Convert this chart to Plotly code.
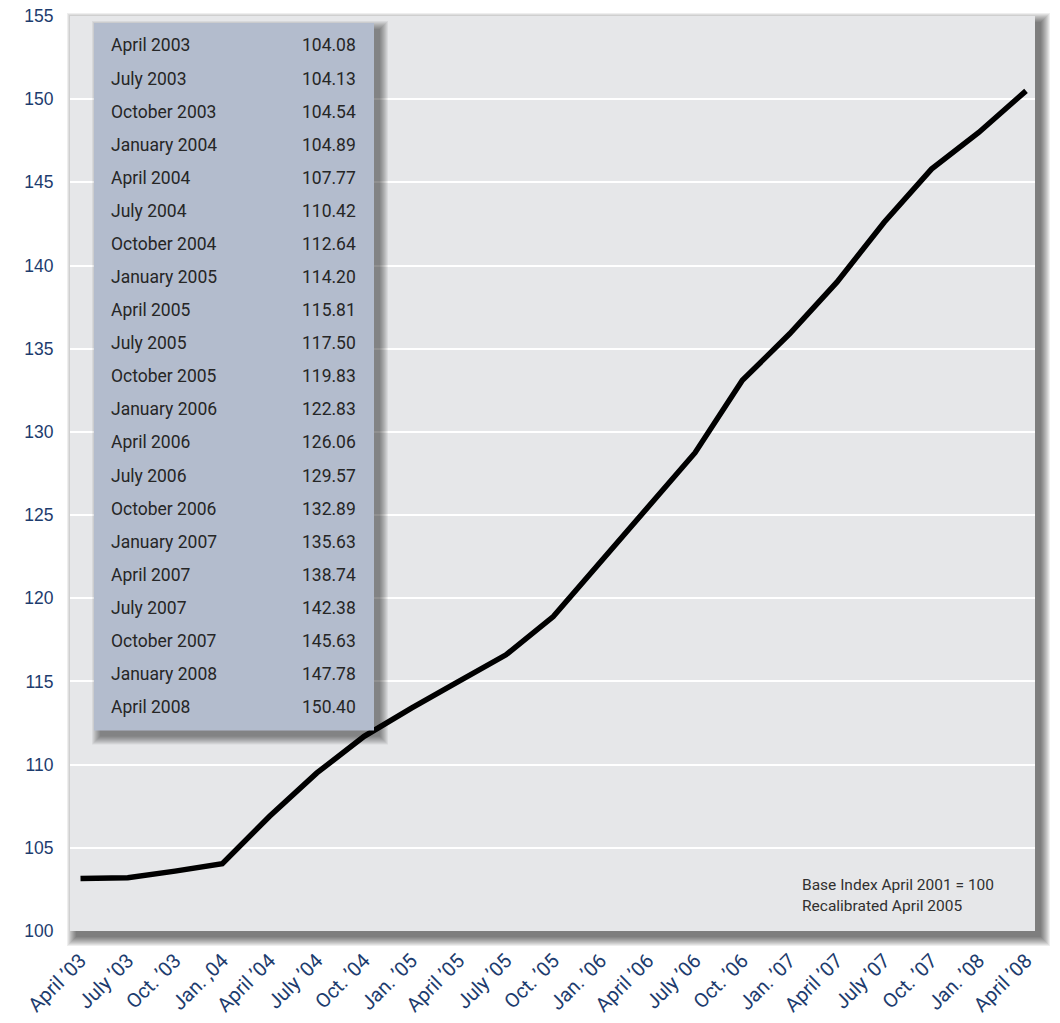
import plotly.graph_objects as go

# ---------------- data ----------------
x_labels = ["April ’03", "July ’03", "Oct. ’03", "Jan. ,04", "April ’04", "July ’04",
            "Oct. ’04", "Jan. ’05", "April ’05", "July ’05", "Oct. ’05", "Jan. ’06",
            "April ’06", "July ’06", "Oct. ’06", "Jan. ’07", "April ’07", "July ’07",
            "Oct. ’07", "Jan. ’08", "April ’08"]
index_values = [103.15, 103.2, 103.6, 104.05, 106.9, 109.5, 111.7, 113.4, 115.0, 116.6,
                118.9, 122.2, 125.5, 128.75, 133.1, 135.9, 139.0, 142.6, 145.8, 148.0, 150.5]

table_periods = ["April 2003", "July 2003", "October 2003", "January 2004", "April 2004",
                 "July 2004", "October 2004", "January 2005", "April 2005", "July 2005",
                 "October 2005", "January 2006", "April 2006", "July 2006", "October 2006",
                 "January 2007", "April 2007", "July 2007", "October 2007", "January 2008",
                 "April 2008"]
table_values = ["104.08", "104.13", "104.54", "104.89", "107.77", "110.42", "112.64",
                "114.20", "115.81", "117.50", "119.83", "122.83", "126.06", "129.57",
                "132.89", "135.63", "138.74", "142.38", "145.63", "147.78", "150.40"]

note_lines = ["Base Index April 2001 = 100", "Recalibrated April 2005"]

# ---------------- geometry (pixels) ----------------
W, H = 1060, 1023
L, R, T, B = 70, 1035, 16, 931.5


def px(x):
    return (x - L) / (R - L)


def py(y):
    return (B - y) / (B - T)


NAVY = "#1d3c6e"
TEXT = "#262626"
PLOT_BG = "#e6e7e9"

fig = go.Figure()
fig.add_trace(go.Scatter(
    x=x_labels, y=index_values, mode="lines",
    line=dict(color="black", width=5.5), hoverinfo="skip", showlegend=False,
))

shapes = []
# plot-area drop shadow (under the plot background)
for s in range(10):
    shapes.append(dict(type="rect", xref="paper", yref="paper", layer="below",
                       x0=px(L + 6 - s), x1=px(R + 6 + s),
                       y0=py(B + 6 + s), y1=py(T + 6 - s),
                       fillcolor="rgba(0,0,0,0.065)", line=dict(width=0)))
# plot background drawn over the shadow
shapes.append(dict(type="rect", xref="paper", yref="paper", layer="below",
                   x0=0, x1=1, y0=0, y1=1, fillcolor=PLOT_BG, line=dict(width=0)))

# table box with drop shadow
TX0, TX1, TY0, TY1 = 94, 374, 23, 731
for s in range(9):
    shapes.append(dict(type="rect", xref="paper", yref="paper", layer="above",
                       x0=px(TX0 + 6 - s), x1=px(TX1 + 6 + s),
                       y0=py(TY1 + 6 + s), y1=py(TY0 + 6 - s),
                       fillcolor="rgba(0,0,0,0.06)", line=dict(width=0)))
shapes.append(dict(type="rect", xref="paper", yref="paper", layer="above",
                   x0=px(TX0), x1=px(TX1), y0=py(TY1), y1=py(TY0),
                   fillcolor="#b3bccd", line=dict(width=0)))

annotations = []
for i, (p, v) in enumerate(zip(table_periods, table_values)):
    yy = py(45.5 + i * 33.1)
    annotations.append(dict(xref="paper", yref="paper", x=px(110), y=yy, text=p,
                            xanchor="left", yanchor="middle", showarrow=False, borderpad=0,
                            font=dict(family="Roboto", size=17.5, color=TEXT)))
    annotations.append(dict(xref="paper", yref="paper", x=px(357), y=yy, text=v,
                            xanchor="right", yanchor="middle", showarrow=False, borderpad=0,
                            font=dict(family="Roboto", size=17.5, color=TEXT)))
for i, t in enumerate(note_lines):
    annotations.append(dict(xref="paper", yref="paper", x=px(801), y=py(885 + i * 21), text=t,
                            xanchor="left", yanchor="middle", showarrow=False, borderpad=0,
                            font=dict(family="Roboto", size=15.5, color="#303030")))

fig.update_layout(
    width=W, height=H,
    margin=dict(l=L, r=W - R, t=T, b=H - B, pad=0),
    paper_bgcolor="white", plot_bgcolor="rgba(0,0,0,0)",
    shapes=shapes, annotations=annotations,
    xaxis=dict(type="category", range=[-0.222, 20.19], tickangle=-45, automargin=False,
               showgrid=False, zeroline=False, showline=False,
               ticks="outside", ticklen=9, tickcolor="rgba(0,0,0,0)",
               tickfont=dict(family="Roboto", size=20, color=NAVY)),
    yaxis=dict(range=[100, 155], dtick=5, tick0=100, automargin=False,
               showgrid=True, gridcolor="white", gridwidth=1.5,
               zeroline=False, showline=False,
               ticks="outside", ticklen=12, tickcolor="rgba(0,0,0,0)",
               tickfont=dict(family="Liberation Sans", size=17.5, color=NAVY)),
)

fig.write_html("out.html")
